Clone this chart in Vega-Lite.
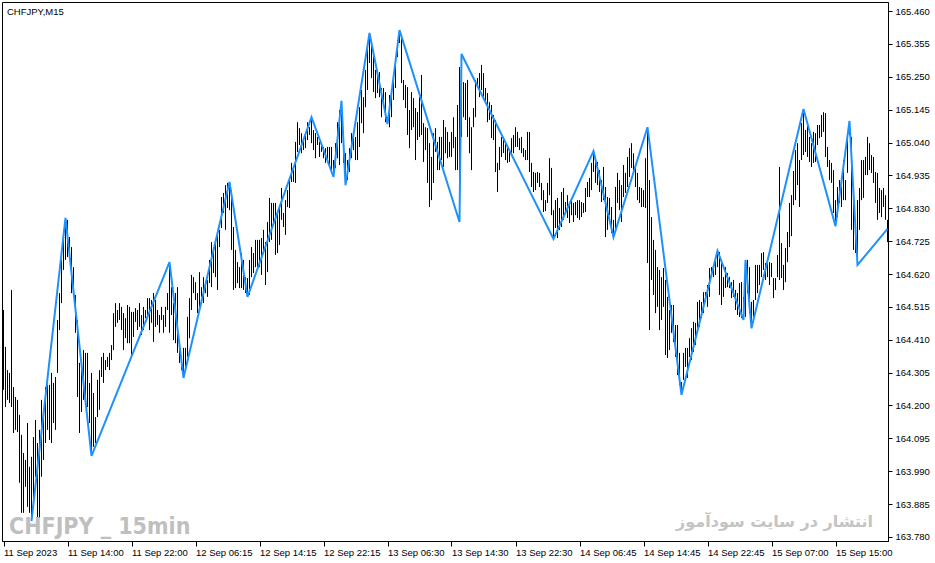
{
"$schema":"https://vega.github.io/schema/vega-lite/v6.json",
"width":886,"height":539,
"autosize":{"type":"none"},
"padding":{"left":2,"top":2,"right":47,"bottom":22},
"background":"white",
"config":{"view":{"stroke":"black","strokeWidth":1},"axis":{"grid":false,"domainColor":"black","tickColor":"black","labelColor":"black","labelFont":"Liberation Sans","labelFontSize":9.5,"title":null,"labelOverlap":false,"labelFlush":false,"labelBound":false}},
"datasets":{
"bars":[
{"i":0,"h":164.505,"l":164.250},{"i":1,"h":164.387,"l":164.195},{"i":2,"h":164.313,"l":164.218},{"i":3,"h":164.304,"l":164.208},{"i":4,"h":164.569,"l":164.195},{"i":5,"h":164.259,"l":164.112},{"i":6,"h":164.227,"l":164.122},{"i":7,"h":164.218,"l":164.115},{"i":8,"h":164.170,"l":163.953},{"i":9,"h":164.106,"l":163.857},
{"i":10,"h":164.048,"l":163.857},{"i":11,"h":164.026,"l":163.940},{"i":12,"h":164.144,"l":163.876},{"i":13,"h":164.004,"l":163.857},{"i":14,"h":164.036,"l":163.831},{"i":15,"h":164.099,"l":163.898},{"i":16,"h":164.154,"l":163.972},{"i":17,"h":164.080,"l":163.834},{"i":18,"h":164.122,"l":163.841},{"i":19,"h":164.218,"l":163.972},
{"i":20,"h":164.179,"l":164.026},{"i":21,"h":164.259,"l":164.080},{"i":22,"h":164.266,"l":164.122},{"i":23,"h":164.266,"l":164.090},{"i":24,"h":164.304,"l":164.080},{"i":25,"h":164.272,"l":164.144},{"i":26,"h":164.291,"l":164.122},{"i":27,"h":164.473,"l":164.304},{"i":28,"h":164.559,"l":164.441},{"i":29,"h":164.665,"l":164.527},
{"i":30,"h":164.751,"l":164.633},{"i":31,"h":164.799,"l":164.665},{"i":32,"h":164.793,"l":164.674},{"i":33,"h":164.738,"l":164.687},{"i":34,"h":164.706,"l":164.559},{"i":35,"h":164.642,"l":164.559},{"i":36,"h":164.553,"l":164.432},{"i":37,"h":164.473,"l":164.227},{"i":38,"h":164.336,"l":164.112},{"i":39,"h":164.345,"l":164.179},
{"i":40,"h":164.377,"l":164.218},{"i":41,"h":164.368,"l":164.227},{"i":42,"h":164.368,"l":164.195},{"i":43,"h":164.272,"l":164.144},{"i":44,"h":164.304,"l":164.039},{"i":45,"h":164.240,"l":164.068},{"i":46,"h":164.163,"l":164.080},{"i":47,"h":164.282,"l":164.163},{"i":48,"h":164.313,"l":164.186},{"i":49,"h":164.355,"l":164.291},
{"i":50,"h":164.368,"l":164.272},{"i":51,"h":164.345,"l":164.313},{"i":52,"h":164.355,"l":164.323},{"i":53,"h":164.368,"l":164.313},{"i":54,"h":164.393,"l":164.345},{"i":55,"h":164.495,"l":164.377},{"i":56,"h":164.527,"l":164.451},{"i":57,"h":164.505,"l":164.464},{"i":58,"h":164.527,"l":164.473},{"i":59,"h":164.515,"l":164.441},
{"i":60,"h":164.495,"l":164.377},{"i":61,"h":164.479,"l":164.415},{"i":62,"h":164.521,"l":164.399},{"i":63,"h":164.515,"l":164.399},{"i":64,"h":164.499,"l":164.361},{"i":65,"h":164.499,"l":164.419},{"i":66,"h":164.511,"l":164.467},{"i":67,"h":164.505,"l":164.441},{"i":68,"h":164.527,"l":164.451},{"i":69,"h":164.489,"l":164.425},
{"i":70,"h":164.515,"l":164.441},{"i":71,"h":164.505,"l":164.479},{"i":72,"h":164.543,"l":164.483},{"i":73,"h":164.543,"l":164.441},{"i":74,"h":164.537,"l":164.464},{"i":75,"h":164.559,"l":164.403},{"i":76,"h":164.537,"l":164.451},{"i":77,"h":164.505,"l":164.457},{"i":78,"h":164.489,"l":164.432},{"i":79,"h":164.515,"l":164.473},
{"i":80,"h":164.489,"l":164.432},{"i":81,"h":164.515,"l":164.451},{"i":82,"h":164.559,"l":164.505},{"i":83,"h":164.658,"l":164.432},{"i":84,"h":164.578,"l":164.489},{"i":85,"h":164.527,"l":164.409},{"i":86,"h":164.559,"l":164.399},{"i":87,"h":164.578,"l":164.368},{"i":88,"h":164.403,"l":164.336},{"i":89,"h":164.345,"l":164.313},
{"i":90,"h":164.384,"l":164.288},{"i":91,"h":164.384,"l":164.313},{"i":92,"h":164.483,"l":164.355},{"i":93,"h":164.543,"l":164.415},{"i":94,"h":164.617,"l":164.505},{"i":95,"h":164.610,"l":164.559},{"i":96,"h":164.594,"l":164.537},{"i":97,"h":164.559,"l":164.495},{"i":98,"h":164.626,"l":164.505},{"i":99,"h":164.578,"l":164.547},
{"i":100,"h":164.610,"l":164.527},{"i":101,"h":164.594,"l":164.559},{"i":102,"h":164.601,"l":164.547},{"i":103,"h":164.665,"l":164.591},{"i":104,"h":164.722,"l":164.578},{"i":105,"h":164.690,"l":164.623},{"i":106,"h":164.719,"l":164.610},{"i":107,"h":164.751,"l":164.569},{"i":108,"h":164.761,"l":164.706},{"i":109,"h":164.866,"l":164.767},
{"i":110,"h":164.879,"l":164.815},{"i":111,"h":164.904,"l":164.761},{"i":112,"h":164.911,"l":164.831},{"i":113,"h":164.914,"l":164.824},{"i":114,"h":164.888,"l":164.697},{"i":115,"h":164.770,"l":164.569},{"i":116,"h":164.697,"l":164.575},{"i":117,"h":164.658,"l":164.591},{"i":118,"h":164.642,"l":164.575},{"i":119,"h":164.687,"l":164.575},
{"i":120,"h":164.665,"l":164.569},{"i":121,"h":164.610,"l":164.559},{"i":122,"h":164.607,"l":164.547},{"i":123,"h":164.665,"l":164.553},{"i":124,"h":164.706,"l":164.610},{"i":125,"h":164.687,"l":164.623},{"i":126,"h":164.729,"l":164.642},{"i":127,"h":164.729,"l":164.633},{"i":128,"h":164.729,"l":164.642},{"i":129,"h":164.735,"l":164.617},
{"i":130,"h":164.761,"l":164.687},{"i":131,"h":164.722,"l":164.585},{"i":132,"h":164.786,"l":164.626},{"i":133,"h":164.863,"l":164.722},{"i":134,"h":164.847,"l":164.729},{"i":135,"h":164.847,"l":164.783},{"i":136,"h":164.847,"l":164.681},{"i":137,"h":164.818,"l":164.687},{"i":138,"h":164.840,"l":164.713},{"i":139,"h":164.895,"l":164.793},
{"i":140,"h":164.815,"l":164.770},{"i":141,"h":164.856,"l":164.745},{"i":142,"h":164.888,"l":164.834},{"i":143,"h":164.927,"l":164.831},{"i":144,"h":164.975,"l":164.914},{"i":145,"h":164.952,"l":164.914},{"i":146,"h":165.042,"l":164.911},{"i":147,"h":165.105,"l":165.010},{"i":148,"h":165.086,"l":165.032},{"i":149,"h":165.070,"l":165.006},
{"i":150,"h":165.054,"l":165.016},{"i":151,"h":165.070,"l":165.022},{"i":152,"h":165.105,"l":165.048},{"i":153,"h":165.089,"l":165.064},{"i":154,"h":165.121,"l":165.038},{"i":155,"h":165.080,"l":165.016},{"i":156,"h":165.070,"l":164.990},{"i":157,"h":165.058,"l":165.032},{"i":158,"h":165.042,"l":164.994},{"i":159,"h":165.038,"l":165.010},
{"i":160,"h":165.026,"l":164.990},{"i":161,"h":165.022,"l":164.975},{"i":162,"h":165.026,"l":164.978},{"i":163,"h":165.026,"l":164.962},{"i":164,"h":165.026,"l":164.946},{"i":165,"h":164.984,"l":164.930},{"i":166,"h":165.038,"l":164.959},{"i":167,"h":165.105,"l":164.990},{"i":168,"h":165.144,"l":164.968},{"i":169,"h":165.173,"l":165.038},
{"i":170,"h":165.026,"l":164.975},{"i":171,"h":165.006,"l":164.904},{"i":172,"h":164.984,"l":164.920},{"i":173,"h":165.022,"l":164.946},{"i":174,"h":165.070,"l":164.990},{"i":175,"h":165.064,"l":165.016},{"i":176,"h":165.058,"l":164.984},{"i":177,"h":165.105,"l":164.984},{"i":178,"h":165.153,"l":165.026},{"i":179,"h":165.208,"l":165.102},
{"i":180,"h":165.185,"l":165.070},{"i":181,"h":165.272,"l":165.153},{"i":182,"h":165.351,"l":165.208},{"i":183,"h":165.390,"l":165.294},{"i":184,"h":165.367,"l":165.246},{"i":185,"h":165.335,"l":165.201},{"i":186,"h":165.272,"l":165.182},{"i":187,"h":165.272,"l":165.198},{"i":188,"h":165.265,"l":165.185},{"i":189,"h":165.214,"l":165.121},
{"i":190,"h":165.214,"l":165.160},{"i":191,"h":165.201,"l":165.105},{"i":192,"h":165.121,"l":165.099},{"i":193,"h":165.192,"l":165.089},{"i":194,"h":165.208,"l":165.121},{"i":195,"h":165.249,"l":165.176},{"i":196,"h":165.313,"l":165.214},{"i":197,"h":165.367,"l":165.313},{"i":198,"h":165.399,"l":165.358},{"i":199,"h":165.383,"l":165.230},
{"i":200,"h":165.240,"l":165.176},{"i":201,"h":165.224,"l":165.150},{"i":202,"h":165.217,"l":165.064},{"i":203,"h":165.144,"l":165.022},{"i":204,"h":165.201,"l":165.080},{"i":205,"h":165.182,"l":165.089},{"i":206,"h":165.150,"l":164.984},{"i":207,"h":165.137,"l":165.048},{"i":208,"h":165.185,"l":165.058},{"i":209,"h":165.256,"l":165.064},
{"i":210,"h":165.102,"l":164.978},{"i":211,"h":165.089,"l":165.016},{"i":212,"h":165.086,"l":164.911},{"i":213,"h":165.038,"l":164.834},{"i":214,"h":164.994,"l":164.856},{"i":215,"h":165.070,"l":164.911},{"i":216,"h":165.086,"l":165.010},{"i":217,"h":165.042,"l":164.952},{"i":218,"h":165.058,"l":164.952},{"i":219,"h":165.058,"l":164.984},
{"i":220,"h":165.112,"l":164.962},{"i":221,"h":165.089,"l":165.006},{"i":222,"h":165.074,"l":164.990},{"i":223,"h":165.042,"l":164.994},{"i":224,"h":165.074,"l":164.994},{"i":225,"h":165.121,"l":165.022},{"i":226,"h":165.058,"l":164.952},{"i":227,"h":165.160,"l":164.952},{"i":228,"h":165.281,"l":164.786},{"i":229,"h":165.323,"l":165.058},
{"i":230,"h":165.233,"l":165.121},{"i":231,"h":165.230,"l":165.112},{"i":232,"h":165.240,"l":165.058},{"i":233,"h":165.121,"l":165.006},{"i":234,"h":165.089,"l":164.952},{"i":235,"h":165.150,"l":165.089},{"i":236,"h":165.240,"l":165.121},{"i":237,"h":165.246,"l":165.217},{"i":238,"h":165.262,"l":165.185},{"i":239,"h":165.288,"l":165.208},
{"i":240,"h":165.262,"l":165.185},{"i":241,"h":165.214,"l":165.169},{"i":242,"h":165.198,"l":165.105},{"i":243,"h":165.169,"l":165.112},{"i":244,"h":165.160,"l":165.054},{"i":245,"h":165.128,"l":165.048},{"i":246,"h":165.112,"l":164.946},{"i":247,"h":164.975,"l":164.882},{"i":248,"h":165.026,"l":164.952},{"i":249,"h":165.058,"l":164.994},
{"i":250,"h":165.058,"l":165.006},{"i":251,"h":165.038,"l":164.984},{"i":252,"h":165.032,"l":164.975},{"i":253,"h":165.016,"l":164.978},{"i":254,"h":165.054,"l":165.006},{"i":255,"h":165.064,"l":165.006},{"i":256,"h":165.089,"l":165.026},{"i":257,"h":165.074,"l":165.026},{"i":258,"h":165.054,"l":165.016},{"i":259,"h":165.058,"l":165.006},
{"i":260,"h":165.022,"l":164.994},{"i":261,"h":165.016,"l":164.984},{"i":262,"h":165.074,"l":164.984},{"i":263,"h":165.074,"l":164.946},{"i":264,"h":164.975,"l":164.898},{"i":265,"h":164.946,"l":164.882},{"i":266,"h":164.943,"l":164.888},{"i":267,"h":164.946,"l":164.911},{"i":268,"h":164.943,"l":164.898},{"i":269,"h":164.911,"l":164.856},
{"i":270,"h":164.888,"l":164.818},{"i":271,"h":164.856,"l":164.821},{"i":272,"h":164.911,"l":164.847},{"i":273,"h":164.990,"l":164.872},{"i":274,"h":164.959,"l":164.808},{"i":275,"h":164.824,"l":164.732},{"i":276,"h":164.856,"l":164.767},{"i":277,"h":164.863,"l":164.735},{"i":278,"h":164.831,"l":164.761},{"i":279,"h":164.882,"l":164.770},
{"i":280,"h":164.895,"l":164.793},{"i":281,"h":164.850,"l":164.815},{"i":282,"h":164.872,"l":164.799},{"i":283,"h":164.840,"l":164.783},{"i":284,"h":164.856,"l":164.808},{"i":285,"h":164.847,"l":164.786},{"i":286,"h":164.850,"l":164.808},{"i":287,"h":164.856,"l":164.799},{"i":288,"h":164.856,"l":164.793},{"i":289,"h":164.850,"l":164.802},
{"i":290,"h":164.847,"l":164.815},{"i":291,"h":164.895,"l":164.818},{"i":292,"h":164.914,"l":164.866},{"i":293,"h":164.927,"l":164.866},{"i":294,"h":164.975,"l":164.888},{"i":295,"h":165.013,"l":164.946},{"i":296,"h":164.994,"l":164.911},{"i":297,"h":164.978,"l":164.904},{"i":298,"h":164.952,"l":164.882},{"i":299,"h":164.920,"l":164.850},
{"i":300,"h":164.962,"l":164.856},{"i":301,"h":164.898,"l":164.738},{"i":302,"h":164.866,"l":164.761},{"i":303,"h":164.863,"l":164.808},{"i":304,"h":164.834,"l":164.751},{"i":305,"h":164.793,"l":164.738},{"i":306,"h":164.898,"l":164.761},{"i":307,"h":164.943,"l":164.847},{"i":308,"h":164.920,"l":164.824},{"i":309,"h":164.904,"l":164.786},
{"i":310,"h":164.968,"l":164.866},{"i":311,"h":164.943,"l":164.879},{"i":312,"h":164.994,"l":164.898},{"i":313,"h":165.022,"l":164.930},{"i":314,"h":165.038,"l":164.959},{"i":315,"h":165.006,"l":164.946},{"i":316,"h":164.968,"l":164.898},{"i":317,"h":164.943,"l":164.856},{"i":318,"h":164.898,"l":164.847},{"i":319,"h":164.895,"l":164.834},
{"i":320,"h":164.888,"l":164.834},{"i":321,"h":164.990,"l":164.831},{"i":322,"h":165.089,"l":164.655},{"i":323,"h":164.920,"l":164.441},{"i":324,"h":164.802,"l":164.601},{"i":325,"h":164.729,"l":164.553},{"i":326,"h":164.697,"l":164.495},{"i":327,"h":164.642,"l":164.515},{"i":328,"h":164.633,"l":164.441},{"i":329,"h":164.610,"l":164.473},
{"i":330,"h":164.639,"l":164.515},{"i":331,"h":164.601,"l":164.361},{"i":332,"h":164.547,"l":164.352},{"i":333,"h":164.505,"l":164.377},{"i":334,"h":164.521,"l":164.432},{"i":335,"h":164.521,"l":164.403},{"i":336,"h":164.457,"l":164.355},{"i":337,"h":164.457,"l":164.297},{"i":338,"h":164.368,"l":164.266},{"i":339,"h":164.275,"l":164.234},
{"i":340,"h":164.368,"l":164.282},{"i":341,"h":164.384,"l":164.323},{"i":342,"h":164.384,"l":164.288},{"i":343,"h":164.415,"l":164.355},{"i":344,"h":164.447,"l":164.345},{"i":345,"h":164.467,"l":164.371},{"i":346,"h":164.464,"l":164.393},{"i":347,"h":164.531,"l":164.441},{"i":348,"h":164.537,"l":164.451},{"i":349,"h":164.531,"l":164.479},
{"i":350,"h":164.562,"l":164.495},{"i":351,"h":164.562,"l":164.531},{"i":352,"h":164.585,"l":164.515},{"i":353,"h":164.639,"l":164.547},{"i":354,"h":164.642,"l":164.617},{"i":355,"h":164.649,"l":164.610},{"i":356,"h":164.665,"l":164.617},{"i":357,"h":164.694,"l":164.642},{"i":358,"h":164.690,"l":164.553},{"i":359,"h":164.665,"l":164.521},
{"i":360,"h":164.610,"l":164.547},{"i":361,"h":164.642,"l":164.575},{"i":362,"h":164.623,"l":164.578},{"i":363,"h":164.610,"l":164.575},{"i":364,"h":164.594,"l":164.543},{"i":365,"h":164.601,"l":164.547},{"i":366,"h":164.569,"l":164.505},{"i":367,"h":164.559,"l":164.489},{"i":368,"h":164.591,"l":164.483},{"i":369,"h":164.594,"l":164.479},
{"i":370,"h":164.547,"l":164.473},{"i":371,"h":164.665,"l":164.483},{"i":372,"h":164.665,"l":164.559},{"i":373,"h":164.642,"l":164.495},{"i":374,"h":164.531,"l":164.447},{"i":375,"h":164.537,"l":164.483},{"i":376,"h":164.649,"l":164.537},{"i":377,"h":164.649,"l":164.559},{"i":378,"h":164.649,"l":164.585},{"i":379,"h":164.687,"l":164.610},
{"i":380,"h":164.690,"l":164.633},{"i":381,"h":164.655,"l":164.601},{"i":382,"h":164.655,"l":164.610},{"i":383,"h":164.658,"l":164.585},{"i":384,"h":164.655,"l":164.610},{"i":385,"h":164.607,"l":164.543},{"i":386,"h":164.607,"l":164.569},{"i":387,"h":164.681,"l":164.610},{"i":388,"h":164.962,"l":164.601},{"i":389,"h":164.719,"l":164.607},
{"i":390,"h":164.649,"l":164.569},{"i":391,"h":164.703,"l":164.594},{"i":392,"h":164.754,"l":164.658},{"i":393,"h":164.847,"l":164.706},{"i":394,"h":164.872,"l":164.741},{"i":395,"h":164.949,"l":164.840},{"i":396,"h":165.016,"l":164.856},{"i":397,"h":165.038,"l":164.904},{"i":398,"h":164.984,"l":164.834},{"i":399,"h":165.102,"l":164.984},
{"i":400,"h":165.147,"l":165.000},{"i":401,"h":165.080,"l":165.010},{"i":402,"h":165.102,"l":164.994},{"i":403,"h":165.058,"l":164.978},{"i":404,"h":165.038,"l":164.962},{"i":405,"h":165.074,"l":164.975},{"i":406,"h":165.070,"l":164.978},{"i":407,"h":165.096,"l":165.032},{"i":408,"h":165.096,"l":165.054},{"i":409,"h":165.128,"l":165.058},
{"i":410,"h":165.137,"l":165.074},{"i":411,"h":165.134,"l":164.994},{"i":412,"h":165.026,"l":164.962},{"i":413,"h":164.984,"l":164.920},{"i":414,"h":164.975,"l":164.911},{"i":415,"h":164.952,"l":164.815},{"i":416,"h":164.856,"l":164.773},{"i":417,"h":164.898,"l":164.802},{"i":418,"h":164.920,"l":164.847},{"i":419,"h":164.898,"l":164.834},
{"i":420,"h":164.984,"l":164.856},{"i":421,"h":164.920,"l":164.856},{"i":422,"h":165.070,"l":164.943},{"i":423,"h":165.109,"l":165.064},{"i":424,"h":165.058,"l":164.761},{"i":425,"h":164.888,"l":164.697},{"i":426,"h":164.761,"l":164.687},{"i":427,"h":164.856,"l":164.649},{"i":428,"h":164.895,"l":164.761},{"i":429,"h":164.984,"l":164.856},
{"i":430,"h":164.984,"l":164.863},{"i":431,"h":164.994,"l":164.936},{"i":432,"h":165.058,"l":164.936},{"i":433,"h":165.038,"l":164.952},{"i":434,"h":165.000,"l":164.943},{"i":435,"h":164.994,"l":164.911},{"i":436,"h":164.946,"l":164.847},{"i":437,"h":164.943,"l":164.793},{"i":438,"h":164.895,"l":164.815},{"i":439,"h":164.888,"l":164.802},
{"i":440,"h":164.895,"l":164.834},{"i":441,"h":164.872,"l":164.793},{"i":442,"h":164.793,"l":164.722}
],
"zz":[
{"i":14,"p":163.831},{"i":31,"p":164.799},{"i":44,"p":164.039},{"i":83,"p":164.658},{"i":90,"p":164.288},{"i":113,"p":164.914},{"i":122,"p":164.547},{"i":154,"p":165.121},{"i":165,"p":164.930},{"i":169,"p":165.173},{"i":171,"p":164.904},{"i":183,"p":165.390},{"i":192,"p":165.099},{"i":198,"p":165.399},{"i":228,"p":164.786},{"i":229,"p":165.323},{"i":275,"p":164.732},{"i":295,"p":165.013},{"i":305,"p":164.738},{"i":322,"p":165.089},{"i":339,"p":164.234},{"i":357,"p":164.694},{"i":370,"p":164.473},{"i":371,"p":164.665},{"i":374,"p":164.447},{"i":400,"p":165.147},{"i":416,"p":164.773},{"i":423,"p":165.109},{"i":427,"p":164.649},{"i":442,"p":164.764}
]
},
"layer":[
{"data":{"name":"bars"},
 "mark":{"type":"rule","color":"black","strokeWidth":1},
 "encoding":{
  "x":{"field":"i","type":"quantitative","scale":{"domain":[-0.75,442.25],"nice":false,"zero":false},
   "axis":{"orient":"bottom","values":[0,32,64,96,128,160,192,224,256,288,320,352,384,416],"tickCount":30,"tickSize":5,"labelPadding":1,"labelAlign":"left","labelOverlap":false,"labelExpr":"['11 Sep 2023','11 Sep 14:00','11 Sep 22:00','12 Sep 06:15','12 Sep 14:15','12 Sep 22:15','13 Sep 06:30','13 Sep 14:30','13 Sep 22:30','14 Sep 06:45','14 Sep 14:45','14 Sep 22:45','15 Sep 07:00','15 Sep 15:00'][round(datum.value/32)]"}},
  "y":{"field":"h","type":"quantitative","scale":{"domain":[163.767,165.489],"nice":false,"zero":false},
   "axis":{"orient":"right","values":[165.46,165.355,165.25,165.145,165.04,164.935,164.83,164.725,164.62,164.515,164.41,164.305,164.2,164.095,163.99,163.885,163.78],"tickCount":30,"format":".3f","tickSize":4,"labelPadding":3,"labelAlign":"left","labelBaseline":"middle","labelOverlap":false}},
  "y2":{"field":"l"}
 }},
{"data":{"name":"zz"},
 "mark":{"type":"line","color":"#1E90FF","strokeWidth":2,"strokeJoin":"miter"},
 "encoding":{"x":{"field":"i","type":"quantitative"},"y":{"field":"p","type":"quantitative"}}},
{"data":{"values":[{"t":"CHFJPY,M15"}]},
 "mark":{"type":"text","align":"left","baseline":"alphabetic","font":"Liberation Sans","fontSize":9.5,"color":"black"},
 "encoding":{"x":{"datum":1.75,"type":"quantitative"},"y":{"datum":165.449,"type":"quantitative"},"text":{"field":"t"}}},
{"data":{"values":[{"t":"CHFJPY _ 15min"}]},
 "mark":{"type":"text","align":"left","baseline":"alphabetic","font":"Liberation Sans Narrow, DejaVu Sans Condensed, Liberation Sans","fontSize":23,"fontWeight":"bold","color":"#BFBFBF"},
 "encoding":{"x":{"datum":2.75,"type":"quantitative"},"y":{"datum":163.79,"type":"quantitative"},"text":{"field":"t"}}},
{"data":{"values":[{"t":"انتشار در سایت سودآموز"}]},
 "mark":{"type":"text","align":"right","baseline":"alphabetic","font":"DejaVu Sans","fontSize":16,"fontWeight":"bold","color":"#C4C4C4"},
 "encoding":{"x":{"datum":434.75,"type":"quantitative"},"y":{"datum":163.812,"type":"quantitative"},"text":{"field":"t"}}}
]
}
